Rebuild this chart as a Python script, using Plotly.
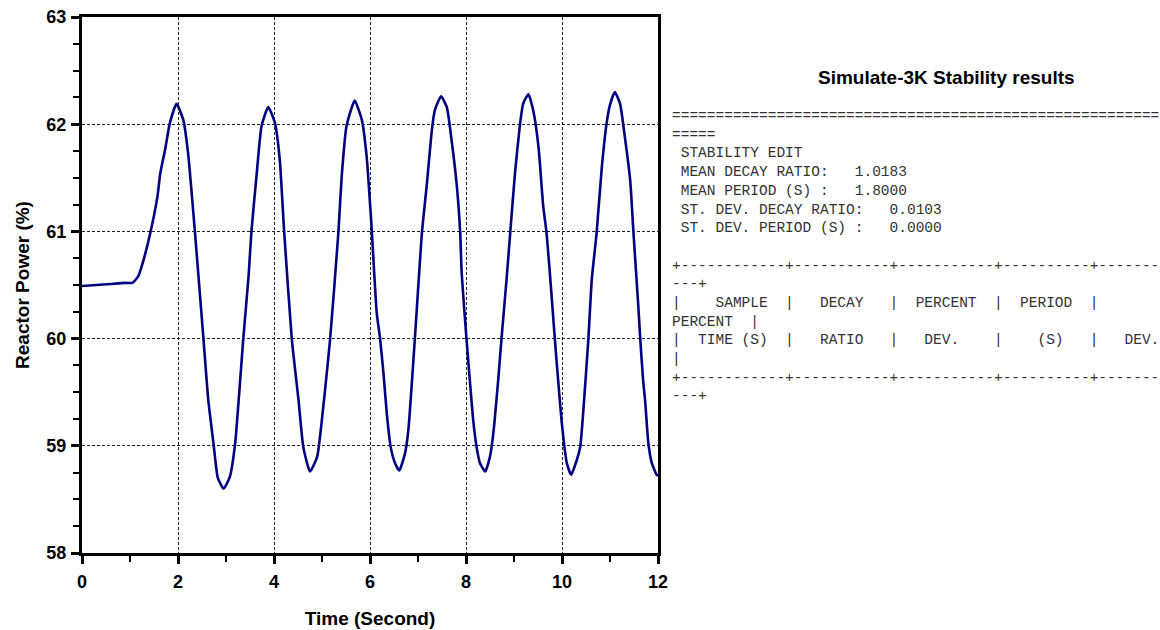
import plotly.graph_objects as go

# ---------------- data ----------------
time_s = [0, 0.3, 0.6, 0.9, 1.05,
          1.17, 1.28, 1.42, 1.57, 1.63, 1.73, 1.83, 1.97,
          2.11, 2.21, 2.35, 2.53, 2.63, 2.74, 2.83, 2.95,
          3.08, 3.19, 3.29, 3.36, 3.47, 3.53, 3.64, 3.74, 3.88,
          4.02, 4.12, 4.21, 4.37, 4.51, 4.61, 4.75,
          4.90, 4.99, 5.10, 5.17, 5.34, 5.41, 5.51, 5.68,
          5.83, 5.93, 6.03, 6.14, 6.21, 6.28, 6.35, 6.43, 6.52, 6.61,
          6.73, 6.80, 6.90, 6.97, 7.08, 7.18, 7.29, 7.35, 7.48,
          7.60, 7.70, 7.81, 7.88, 7.91, 8.01, 8.08, 8.15, 8.22, 8.29, 8.40,
          8.50, 8.57, 8.67, 8.74, 8.85, 8.92, 9.02, 9.12, 9.19, 9.30,
          9.40, 9.51, 9.61, 9.68, 9.79, 9.85, 9.92, 9.99, 10.05, 10.10, 10.19,
          10.31, 10.38, 10.44, 10.55, 10.62, 10.72, 10.83, 10.93, 11.00, 11.10,
          11.21, 11.31, 11.42, 11.49, 11.59, 11.63, 11.69, 11.73, 11.80, 11.87, 11.97, 12.0]

power_pct = [60.49, 60.50, 60.51, 60.52, 60.52,
             60.58, 60.73, 60.98, 61.32, 61.54, 61.76, 62.01, 62.19,
             62.04, 61.73, 61.01, 60.00, 59.43, 59.02, 58.70, 58.60,
             58.71, 59.02, 59.58, 60.00, 60.58, 61.00, 61.54, 61.98, 62.16,
             62.01, 61.67, 61.01, 60.00, 59.43, 58.99, 58.76,
             58.90, 59.21, 59.68, 60.00, 60.98, 61.51, 61.98, 62.22,
             62.04, 61.70, 61.06, 60.24, 60.00, 59.68, 59.30, 58.99, 58.84, 58.77,
             58.93, 59.15, 59.77, 60.24, 60.98, 61.42, 61.95, 62.13, 62.26,
             62.16, 61.85, 61.42, 60.98, 60.61, 60.00, 59.61, 59.24, 58.99, 58.84, 58.76,
             58.90, 59.12, 59.61, 60.00, 60.58, 60.98, 61.54, 61.98, 62.19, 62.28,
             62.13, 61.79, 61.23, 60.98, 60.36, 60.00, 59.61, 59.24, 58.99, 58.84, 58.73,
             58.87, 58.99, 59.30, 60.00, 60.55, 60.98, 61.60, 62.01, 62.18, 62.30,
             62.19, 61.88, 61.48, 60.98, 60.30, 60.00, 59.61, 59.43, 59.02, 58.84, 58.73, 58.72]

x_range = [0, 12]
y_range = [58, 63]
x_major_step, x_minor_step = 2, 1
y_major_step, y_minor_step = 1, 0.25
x_title = "Time (Second)"
y_title = "Reactor Power (%)"
panel_title = "Simulate-3K Stability results"

report_lines = [
    "=" * 56,
    "=====",
    " STABILITY EDIT",
    " MEAN DECAY RATIO:   1.0183",
    " MEAN PERIOD (S) :   1.8000",
    " ST. DEV. DECAY RATIO:   0.0103",
    " ST. DEV. PERIOD (S) :   0.0000",
    "",
    "+" + "-" * 12 + "+" + "-" * 11 + "+" + "-" * 11 + "+" + "-" * 10 + "+" + "-" * 7,
    "---+",
    "|    SAMPLE  |   DECAY   |  PERCENT  |  PERIOD  |",
    "PERCENT  |",
    "|  TIME (S)  |   RATIO   |   DEV.    |    (S)   |   DEV.",
    "|",
    "+" + "-" * 12 + "+" + "-" * 11 + "+" + "-" * 11 + "+" + "-" * 10 + "+" + "-" * 7,
    "---+",
]

# ---------------- layout geometry ----------------
W, H = 1160, 630
ML, MR, MT, MB = 82, 502, 17, 77
PW, PH = W - ML - MR, H - MT - MB


def px_to_paper(px, py):
    return (px - ML) / PW, (H - MB - py) / PH


fig = go.Figure()
fig.add_trace(go.Scatter(
    x=time_s, y=power_pct, mode="lines",
    line=dict(color="#000080", width=2.6, shape="spline", smoothing=0.5),
    showlegend=False, hoverinfo="skip"))

bold18 = dict(family="Liberation Sans, Arial, sans-serif", size=18, color="black", weight="bold")
bold19 = dict(family="Liberation Sans, Arial, sans-serif", size=19, color="black", weight="bold")
grid_style = dict(showgrid=True, gridcolor="#222222", gridwidth=1, griddash="3px,2px")

fig.update_layout(
    template="none",
    width=W, height=H,
    margin=dict(l=ML, r=MR, t=MT, b=MB, pad=0, autoexpand=False),
    paper_bgcolor="white", plot_bgcolor="white",
    xaxis=dict(range=x_range, tickmode="linear", tick0=0, dtick=x_major_step,
               automargin=False,
               ticks="outside", ticklen=8, tickwidth=2.5, tickcolor="black",
               showline=True, linewidth=3, linecolor="black", mirror=True,
               zeroline=False, tickfont=bold18, ticklabelstandoff=2,
               minor=dict(tick0=0, dtick=x_minor_step, ticks="outside", ticklen=6,
                          tickwidth=2, tickcolor="black", showgrid=False),
               title=dict(text=x_title, font=bold19, standoff=22), **grid_style),
    yaxis=dict(range=y_range, tickmode="linear", tick0=58, dtick=y_major_step,
               automargin=False,
               ticks="outside", ticklen=8, tickwidth=2.5, tickcolor="black",
               showline=True, linewidth=3, linecolor="black", mirror=True,
               zeroline=False, tickfont=bold18, ticklabelstandoff=1,
               minor=dict(tick0=58, dtick=y_minor_step, ticks="outside", ticklen=6,
                          tickwidth=2, tickcolor="black", showgrid=False),
               title=dict(text=y_title, font=bold19, standoff=12), **grid_style),
)

annotations = []
tx, ty = px_to_paper(946, 77)
annotations.append(dict(text=panel_title, xref="paper", yref="paper", x=tx, y=ty,
                        xanchor="center", yanchor="middle", showarrow=False, font=bold19))
mono = dict(family="Liberation Mono, Courier New, monospace", size=14.5, color="#333333")
for i, line in enumerate(report_lines):
    if not line:
        continue
    ax, ay = px_to_paper(671, 116 + 18.7 * i)
    annotations.append(dict(text=line.replace(" ", "\u00a0"), xref="paper", yref="paper",
                            x=ax, y=ay, xanchor="left", yanchor="middle", showarrow=False,
                            font=mono, borderpad=0))
fig.update_layout(annotations=annotations)

fig.write_html("out.html")
